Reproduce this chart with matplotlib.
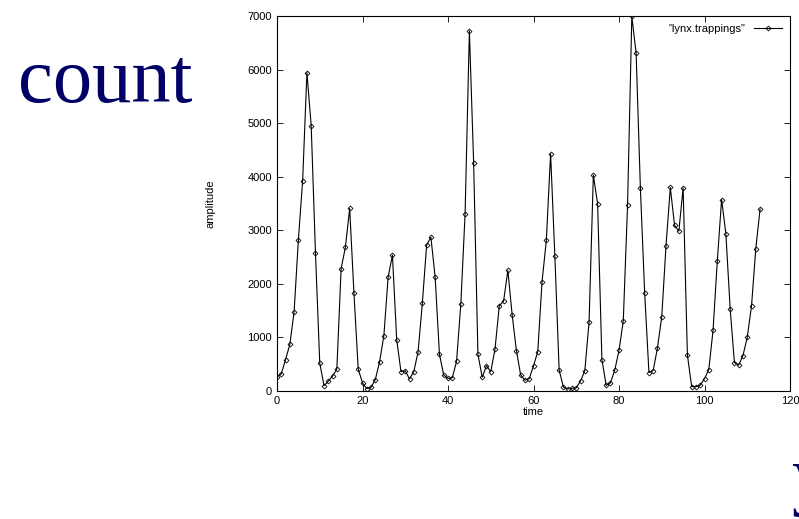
import matplotlib.pyplot as plt
import numpy as np

# annual lynx trappings, index 0..113
lynx = [269, 321, 585, 871, 1475, 2821, 3928, 5943, 4950, 2577, 523, 98, 184, 279, 409,
        2285, 2685, 3409, 1824, 409, 151, 45, 68, 213, 546, 1033, 2129, 2536, 957, 361,
        377, 225, 360, 731, 1638, 2725, 2871, 2119, 684, 299, 236, 245, 552, 1623, 3311,
        6721, 4254, 687, 255, 473, 358, 784, 1594, 1676, 2251, 1426, 756, 299, 201, 229,
        469, 736, 2042, 2811, 4431, 2511, 389, 73, 39, 49, 59, 188, 377, 1292, 4031,
        3495, 587, 105, 153, 387, 758, 1307, 3465, 6991, 6313, 3794, 1836, 345, 382,
        808, 1388, 2713, 3800, 3091, 2985, 3790, 674, 81, 80, 108, 229, 399, 1132,
        2432, 3574, 2935, 1537, 529, 485, 662, 1000, 1590, 2657, 3396]
t = np.arange(len(lynx))

xticks = [0, 20, 40, 60, 80, 100, 120]
yticks = [0, 1000, 2000, 3000, 4000, 5000, 6000, 7000]

plt.rcParams['font.family'] = 'Liberation Sans'

fig = plt.figure(figsize=(7.99, 5.19), dpi=100)
ax = fig.add_axes([277/799, 1 - 391/519, (790 - 277)/799, (391 - 16)/519])

ax.plot(t, lynx, color='black', lw=0.8, marker='D', ms=2.5, mfc='none', mew=0.6,
        label='"lynx.trappings"')
ax.set_xlim(0, 120)
ax.set_ylim(0, 7000)
ax.set_xticks(xticks)
ax.set_yticks(yticks)
ax.tick_params(direction='in', top=True, right=True, labelsize=8, length=4, width=0.6)
for s in ax.spines.values():
    s.set_linewidth(0.8)
ax.set_xlabel('time', fontsize=8, labelpad=1)
ax.set_ylabel('amplitude', fontsize=8, labelpad=23)
ax.legend(loc='upper right', frameon=False, markerfirst=False, fontsize=8,
          handlelength=2.5, borderaxespad=0.3)

fig.text(18/799, 1 - 102/519, 'count', family='Liberation Serif', fontsize=56.5,
         color='#000066', va='baseline')
# partial slide text cut off at the right edge, as in the source screenshot
fig.text(792/799, 1 - 500/519, 'y', family='Liberation Serif', fontsize=56.5,
         color='#000066', va='baseline')

fig.savefig('out.png')
